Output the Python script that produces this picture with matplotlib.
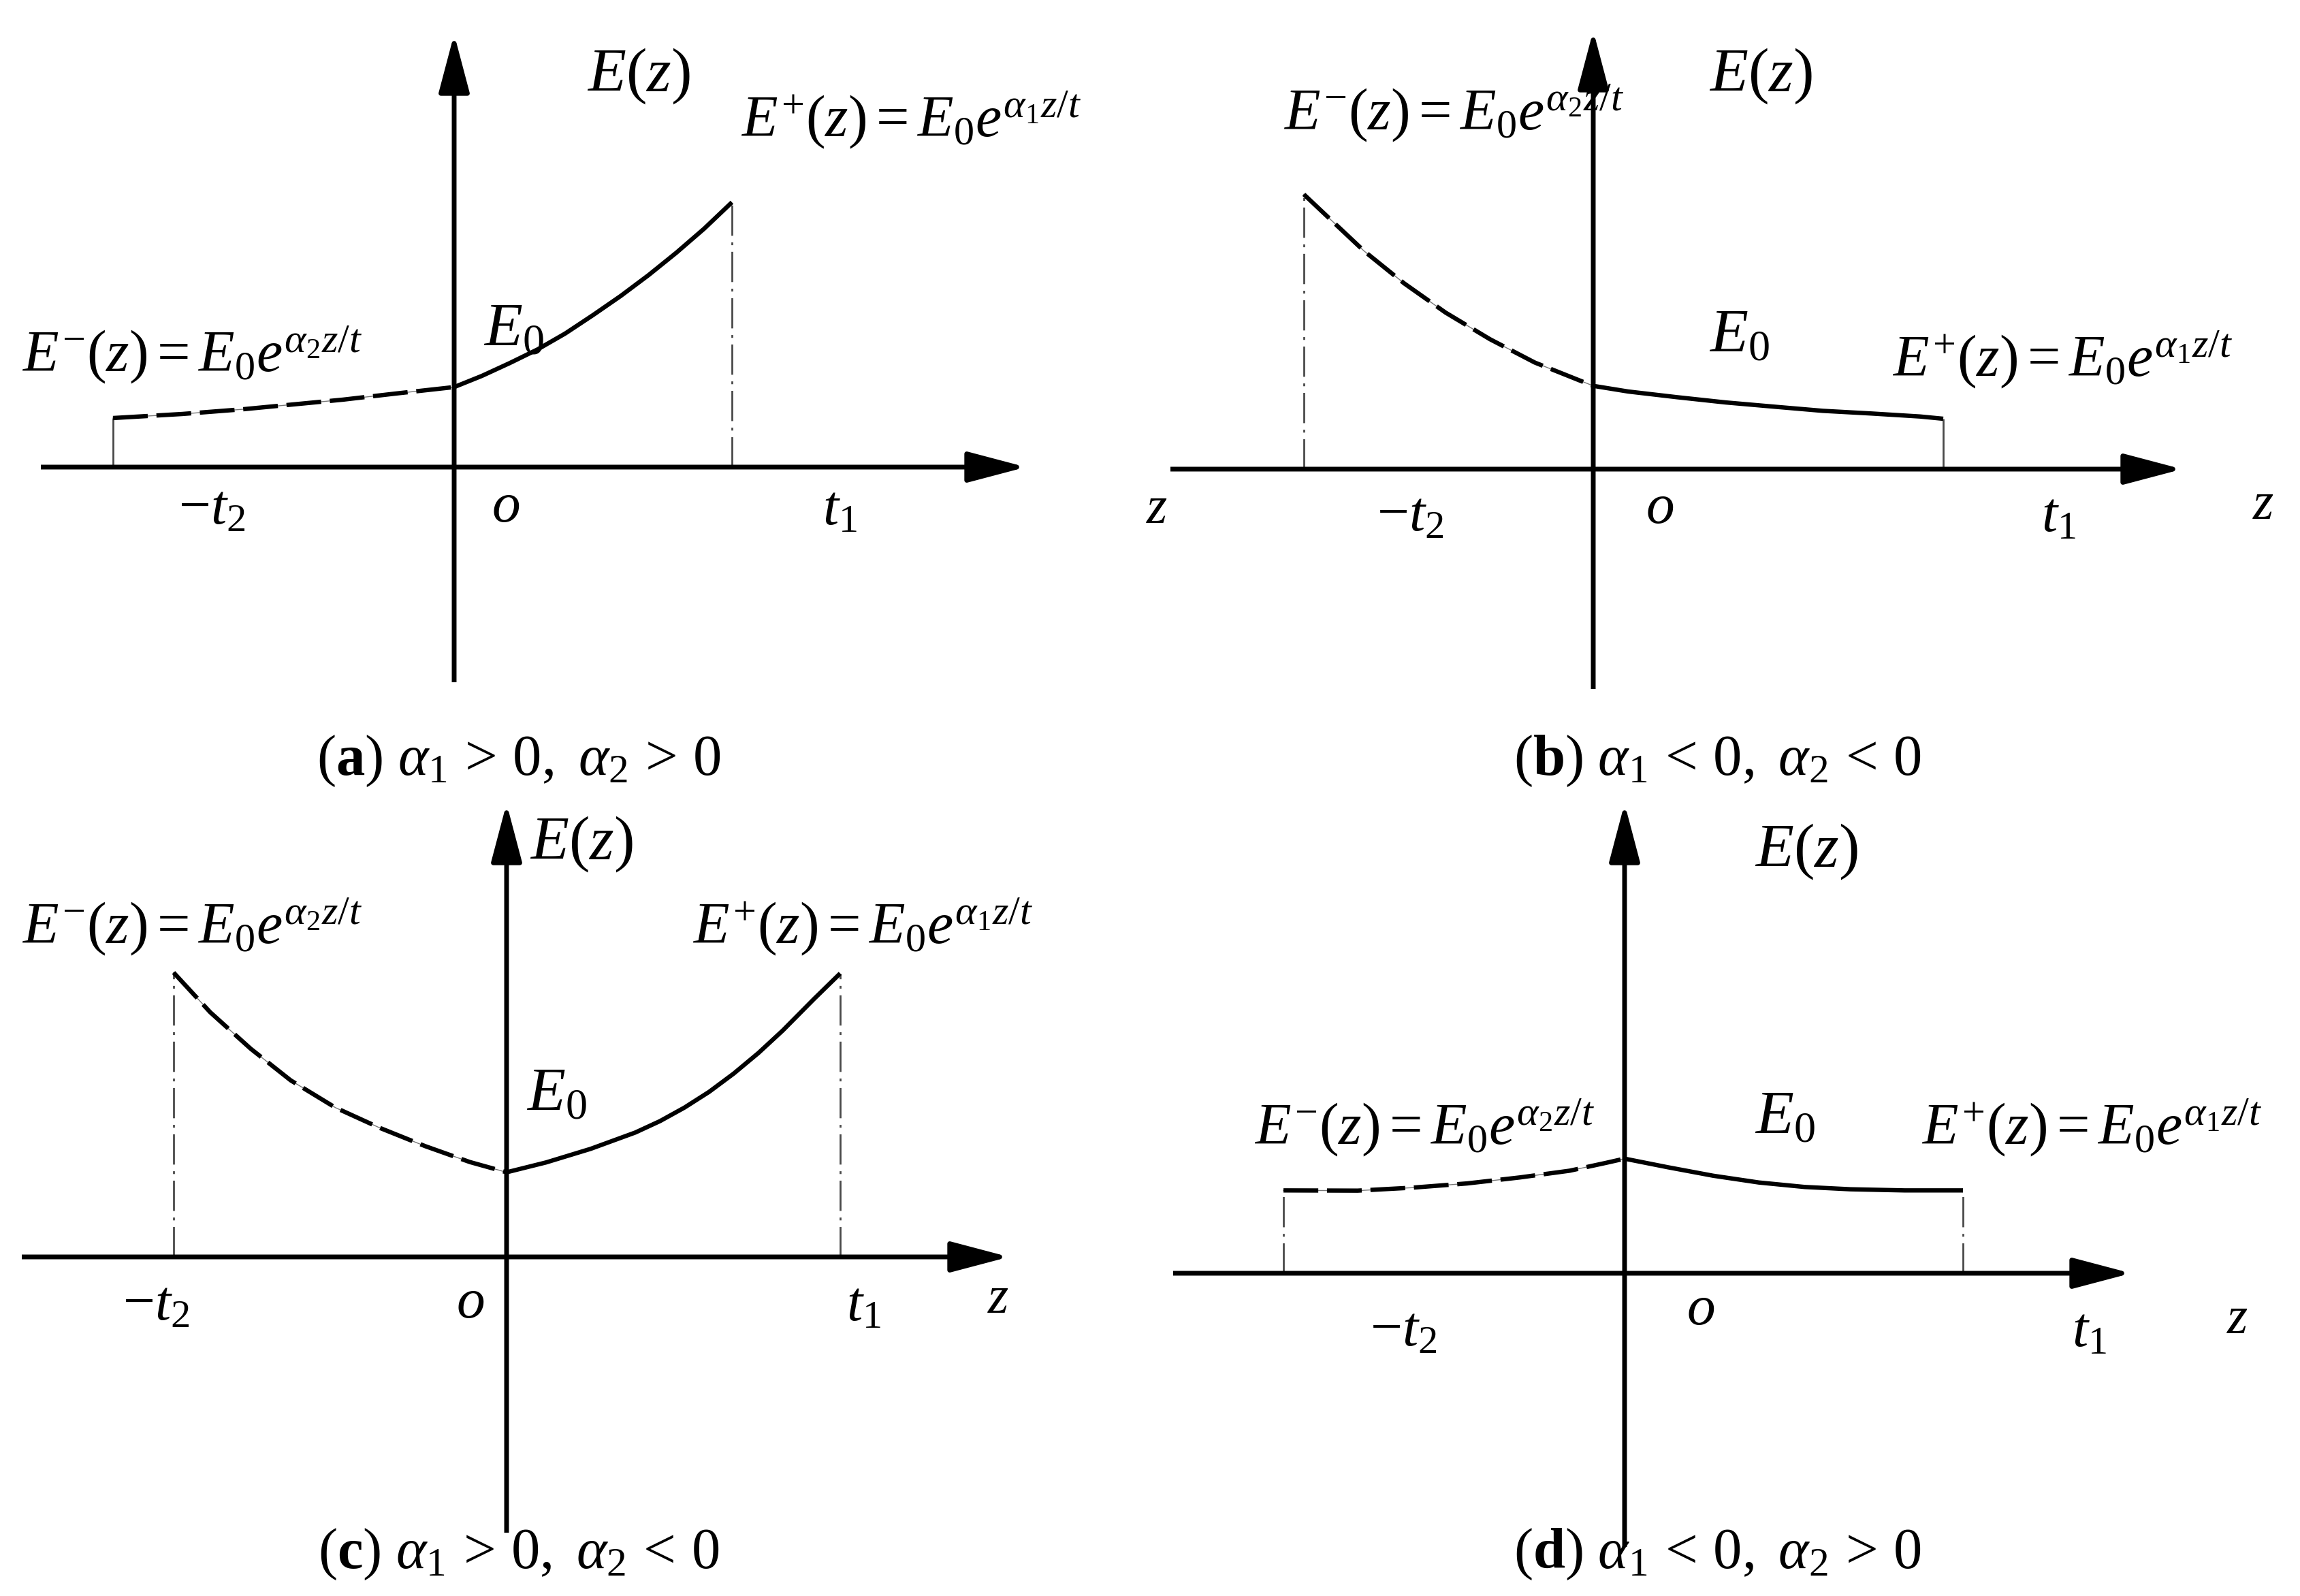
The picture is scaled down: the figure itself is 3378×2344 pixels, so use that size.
import matplotlib
matplotlib.use('Agg')
import matplotlib.pyplot as plt
import matplotlib.transforms as mtransforms
from matplotlib.patches import FancyArrowPatch

W, H = 3378, 2344

plt.rcParams['font.family'] = ['Liberation Serif', 'DejaVu Serif']
plt.rcParams['mathtext.fontset'] = 'custom'
plt.rcParams['mathtext.rm'] = 'Liberation Serif'
plt.rcParams['mathtext.it'] = 'Liberation Serif:italic'
plt.rcParams['mathtext.bf'] = 'Liberation Serif:bold'

# z in units of t1, E in units of E0
a_z_neg = [-1.228, -0.978, -0.760, -0.556, -0.400, -0.211, 0.0]
a_E_neg = [0.613, 0.664, 0.723, 0.791, 0.843, 0.919, 1.0]
a_z_pos = [0.0, 0.1, 0.2, 0.3, 0.4, 0.5, 0.6, 0.7, 0.8, 0.9, 1.0]
a_E_pos = [1.0, 1.14, 1.30, 1.47, 1.67, 1.90, 2.14, 2.40, 2.68, 2.98, 3.31]

b_z_neg = [-0.827, -0.774, -0.655, -0.540, -0.422, -0.295, -0.167, -0.042, 0.0]
b_E_neg = [3.30, 3.09, 2.62, 2.23, 1.88, 1.56, 1.28, 1.07, 1.0]
b_z_pos = [0.0, 0.100, 0.239, 0.378, 0.517, 0.656, 0.795, 0.934, 1.0]
b_E_pos = [1.0, 0.932, 0.864, 0.801, 0.750, 0.700, 0.668, 0.632, 0.605]

c_z_neg = [-0.998, -0.888, -0.767, -0.647, -0.513, -0.379, -0.244, -0.110, 0.0]
c_E_neg = [3.36, 2.89, 2.46, 2.086, 1.764, 1.523, 1.309, 1.121, 1.0]
c_z_pos = [0.0, 0.118, 0.252, 0.386, 0.46, 0.533, 0.607, 0.681, 0.755, 0.828, 0.922, 1.0]
c_E_pos = [1.0, 1.116, 1.277, 1.47, 1.605, 1.764, 1.95, 2.167, 2.41, 2.676, 3.05, 3.35]

d_z_neg = [-1.008, -0.789, -0.627, -0.465, -0.310, -0.162, -0.054, 0.0]
d_E_neg = [0.723, 0.721, 0.747, 0.784, 0.836, 0.895, 0.964, 1.0]
d_z_pos = [0.0, 0.128, 0.262, 0.397, 0.532, 0.667, 0.828, 1.0]
d_E_pos = [1.0, 0.925, 0.851, 0.792, 0.753, 0.733, 0.723, 0.723]

captions = [r'$(\mathbf{a})\ \alpha_1\,>\,0,\ \alpha_2\,>\,0$',
            r'$(\mathbf{b})\ \alpha_1\,<\,0,\ \alpha_2\,<\,0$',
            r'$(\mathbf{c})\ \alpha_1\,>\,0,\ \alpha_2\,<\,0$',
            r'$(\mathbf{d})\ \alpha_1\,<\,0,\ \alpha_2\,>\,0$']

E_LABEL = r'$E(z)$'
E_PLUS = r'$E^{+}(z)=E_0e^{\alpha_1 z/t}$'
E_MINUS = r'$E^{-}(z)=E_0e^{\alpha_2 z/t}$'

fig = plt.figure(figsize=(W / 100, H / 100), dpi=100)
fig.patch.set_facecolor('white')
# reference pixel coords (origin top-left)
pix = mtransforms.Affine2D().scale(1 / W, -1 / H).translate(0, 1) + fig.transFigure

DASH_CURVE = (0, (8, 2.0))
DASH_DOT = (0, (16, 3.5, 1.5, 3.5))
LBL = 62
TICK = 60


def axis_arrow(p0, p1):
    arr = FancyArrowPatch(p0, p1, transform=pix,
                          arrowstyle='-|>,head_length=5.3,head_width=1.4',
                          mutation_scale=10, lw=5, color='black',
                          shrinkA=0, shrinkB=0, capstyle='butt')
    fig.add_artist(arr)


def draw_panel(z_neg, E_neg, z_pos, E_pos, origin, t1_px, e0_px,
               xaxis, yaxis, left_style, right_style, labels, caption, cap_pos):
    ox, oy = origin
    ax = fig.add_axes([0, 0, 1, 1])
    ax.set_axis_off()
    ax.patch.set_alpha(0)
    ax.set_xlim(-ox / t1_px, (W - ox) / t1_px)
    ax.set_ylim((oy - H) / e0_px, oy / e0_px)

    # drop lines at -t2 and t1
    ax.plot([z_neg[0], z_neg[0]], [0, E_neg[0]], color='#4a4a4a', lw=2.0,
            ls=left_style, solid_capstyle='butt')
    ax.plot([z_pos[-1], z_pos[-1]], [0, E_pos[-1]], color='#4a4a4a', lw=2.0,
            ls=right_style, solid_capstyle='butt')

    # E- (dashed) and E+ (solid)
    ax.plot(z_neg, E_neg, color='#777777', lw=1.0)
    ax.plot(z_neg, E_neg, color='black', lw=4.6, ls=DASH_CURVE, dash_capstyle='butt')
    ax.plot(z_pos, E_pos, color='black', lw=4.6, solid_capstyle='butt')

    # axes with arrows
    axis_arrow((xaxis[0], oy), (xaxis[1], oy))
    axis_arrow((ox, yaxis[0]), (ox, yaxis[1]))

    for s, x, y, size in labels:
        fig.text(x, y, s, transform=pix, ha='left', va='baseline', fontsize=size)
    fig.text(cap_pos[0], cap_pos[1], caption, transform=pix, ha='center',
             va='baseline', fontsize=61)


draw_panel(a_z_neg, a_E_neg, a_z_pos, a_E_pos, (667, 686), 408, 117.5,
           (60, 1507), (1002, 50), '-', DASH_DOT,
           [(E_LABEL, 862, 134, LBL + 4), (E_PLUS, 1088, 200, LBL), (E_MINUS, 32, 545, LBL),
            (r'$E_0$', 710, 508, LBL + 4), (r'$-t_2$', 262, 770, TICK), (r'$o$', 722, 766, TICK),
            (r'$t_1$', 1208, 770, TICK)],
           captions[0], (762, 1138))

draw_panel(b_z_neg, b_E_neg, b_z_pos, b_E_pos, (2340, 689), 514, 122.3,
           (1719, 3205), (1012, 45), DASH_DOT, '-',
           [(E_LABEL, 2510, 134, LBL + 4), (E_MINUS, 1885, 190, LBL), (E_PLUS, 2779, 552, LBL),
            (r'$E_0$', 2510, 517, LBL + 4), (r'$z$', 1683, 768, TICK - 4),
            (r'$-t_2$', 2022, 780, TICK), (r'$o$', 2417, 768, TICK),
            (r'$t_1$', 2998, 780, TICK), (r'$z$', 3308, 762, TICK - 4)],
           captions[1], (2522, 1138))

draw_panel(c_z_neg, c_E_neg, c_z_pos, c_E_pos, (744, 1846), 490, 124.3,
           (32, 1482), (2251, 1180), DASH_DOT, DASH_DOT,
           [(E_LABEL, 778, 1262, LBL + 4), (E_MINUS, 32, 1385, LBL), (E_PLUS, 1017, 1385, LBL),
            (r'$E_0$', 773, 1631, LBL + 4), (r'$-t_2$', 180, 1939, TICK),
            (r'$o$', 670, 1935, TICK), (r'$t_1$', 1243, 1939, TICK),
            (r'$z$', 1450, 1928, TICK - 4)],
           captions[2], (762, 2303))

draw_panel(d_z_neg, d_E_neg, d_z_pos, d_E_pos, (2386, 1870), 497, 168.3,
           (1723, 3130), (2272, 1180), DASH_DOT, DASH_DOT,
           [(E_LABEL, 2577, 1273, LBL + 4), (E_MINUS, 1842, 1680, LBL), (E_PLUS, 2822, 1680, LBL),
            (r'$E_0$', 2577, 1665, LBL + 4), (r'$-t_2$', 2012, 1977, TICK),
            (r'$o$', 2477, 1945, TICK), (r'$t_1$', 3043, 1977, TICK),
            (r'$z$', 3270, 1958, TICK - 4)],
           captions[3], (2522, 2303))

fig.savefig('out.png', dpi=100, facecolor='white')
